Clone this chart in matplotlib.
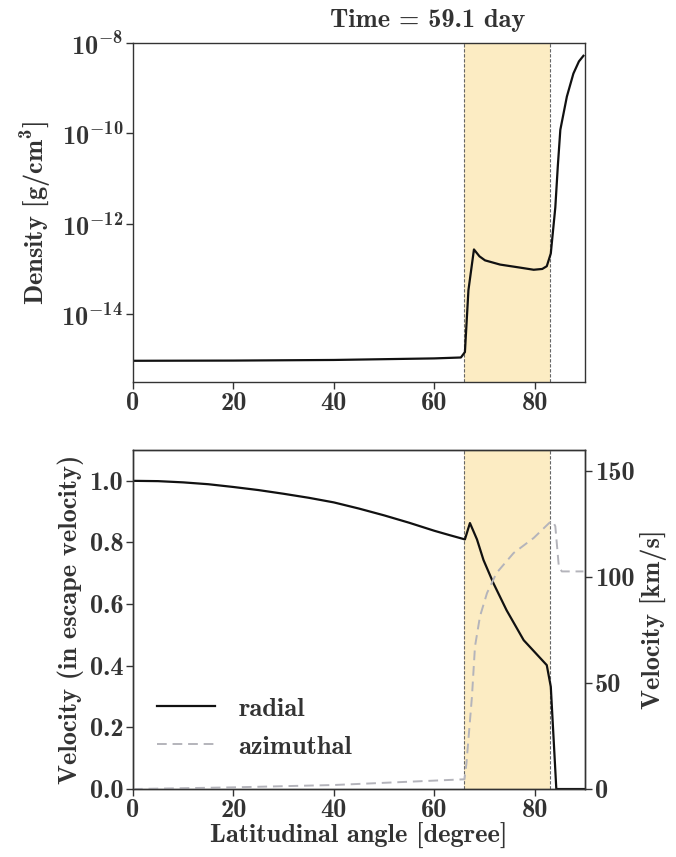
import numpy as np
import matplotlib
matplotlib.use("Agg")
import matplotlib.pyplot as plt
from matplotlib.ticker import FuncFormatter

plt.rcParams['font.family'] = ['cmb10', 'DejaVu Serif']
plt.rcParams['mathtext.fontset'] = 'custom'
plt.rcParams['mathtext.rm'] = 'cmb10'
plt.rcParams['mathtext.bf'] = 'cmb10'
plt.rcParams['mathtext.it'] = 'cmb10'
plt.rcParams['mathtext.fallback'] = 'cm'
txt = '#333333'
plt.rcParams['text.color'] = txt
plt.rcParams['axes.labelcolor'] = txt
plt.rcParams['xtick.color'] = txt
plt.rcParams['ytick.color'] = txt
plt.rcParams['axes.edgecolor'] = '#333333'

# density profile (latitude in degree, density in g/cm^3)
lat_rho = [0, 20, 40, 60, 65.3, 66.1, 66.8, 67.9, 69.0, 70.1, 73.1, 77.1, 79.8, 81.5, 82.4, 83.2, 84.1,
           84.6, 85.1, 86.4, 87.7, 88.8, 89.7]
rho = [9.3e-16, 9.4e-16, 9.7e-16, 1.05e-15, 1.1e-15, 1.45e-15, 3.4e-14, 2.7e-13, 1.9e-13, 1.55e-13, 1.25e-13,
       1.07e-13, 9.6e-14, 1.0e-13, 1.15e-13, 2.2e-13, 2.3e-12, 1.9e-11, 1.2e-10, 6.5e-10, 2.1e-9, 3.9e-9, 5.2e-9]

# radial velocity (in escape velocity)
lat_vr = [0, 5, 10, 15, 20, 25, 30, 35, 40, 45, 50, 55, 60, 63, 66.1, 67.1, 68.5, 69.8, 71.8, 74.4, 77.8,
          82.4, 83.2, 84.3, 90]
v_rad = [1.0, 0.999, 0.995, 0.989, 0.98, 0.97, 0.958, 0.945, 0.93, 0.91, 0.888, 0.864, 0.838, 0.824, 0.81,
         0.863, 0.81, 0.743, 0.667, 0.58, 0.483, 0.402, 0.332, 0.0, 0.0]

# azimuthal velocity (km/s)
lat_vphi = [0, 20, 40, 66.0, 66.4, 67.5, 68.1, 69.1, 70.5, 72.4, 75.8, 79.8, 82.9, 83.6, 84.1, 84.8, 85.4, 89.7]
v_phi = [0, 0.8, 1.9, 4.6, 12, 43.6, 67.2, 81.5, 92.5, 102, 111.4, 118.5, 125.6, 126.4, 124, 105, 102.7, 102.7]

band = (66.0, 83.0)

fig = plt.figure(figsize=(6.76, 8.57), dpi=100)
ax1 = fig.add_axes([0.1967, 0.5543, 0.6686, 0.3956])
ax2 = fig.add_axes([0.1967, 0.0793, 0.6686, 0.3956])

fs = 19
dash = (0, (5, 3))

ax1.semilogy(lat_rho, rho, color='#111111', lw=1.6)
ax1.set_xlim(0, 90)
ax1.set_ylim(10**-15.5, 1e-8)
ax1.set_yticks([1e-14, 1e-12, 1e-10, 1e-8])
ax1.minorticks_off()
ax1.yaxis.set_major_formatter(FuncFormatter(lambda v, p: r'$10^{%d}$' % round(np.log10(v))))
ax1.set_ylabel(r'Density [g/cm$^3$]', fontsize=fs, labelpad=6)

ax2.plot(lat_vr, v_rad, color='#111111', lw=1.6, label='radial')
ax2.plot([], [], color='#b4b4bb', lw=1.4, ls=dash, label='azimuthal')
ax2.set_xlim(0, 90)
ax2.set_ylim(0, 1.1)
ax2.set_yticks([0, 0.2, 0.4, 0.6, 0.8, 1.0])
ax2.set_ylabel('Velocity (in escape velocity)', fontsize=fs)
ax2.set_xlabel('Latitudinal angle [degree]', fontsize=fs, labelpad=1)
ax2.legend(loc='lower left', frameon=False, fontsize=fs, handlelength=2.2, handletextpad=0.9,
           bbox_to_anchor=(0.0, 0.02), labelspacing=0.55)

ax3 = ax2.twinx()
ax3.plot(lat_vphi, v_phi, color='#b4b4bb', lw=1.4, ls=dash)
ax3.set_ylim(0, 160)
ax3.set_yticks([0, 50, 100, 150])
ax3.set_ylabel('Velocity [km/s]', fontsize=fs)

for ax in (ax1, ax2):
    ax.axvspan(band[0], band[1], color='#fcecc3', lw=0, zorder=0)
    for b in band:
        ax.axvline(b, color='#666666', lw=0.8, ls=(0, (3, 1.5)), zorder=1)
    ax.set_xticks([0, 20, 40, 60, 80])

for ax in (ax1, ax2, ax3):
    ax.tick_params(labelsize=fs, direction='out', length=5, width=1, pad=2)
    for s in ax.spines.values():
        s.set_linewidth(1.0)

fig.text(0.632, 0.976, 'Time = 59.1 day', fontsize=fs, ha='center', va='center')

fig.savefig('out.png', dpi=100)
